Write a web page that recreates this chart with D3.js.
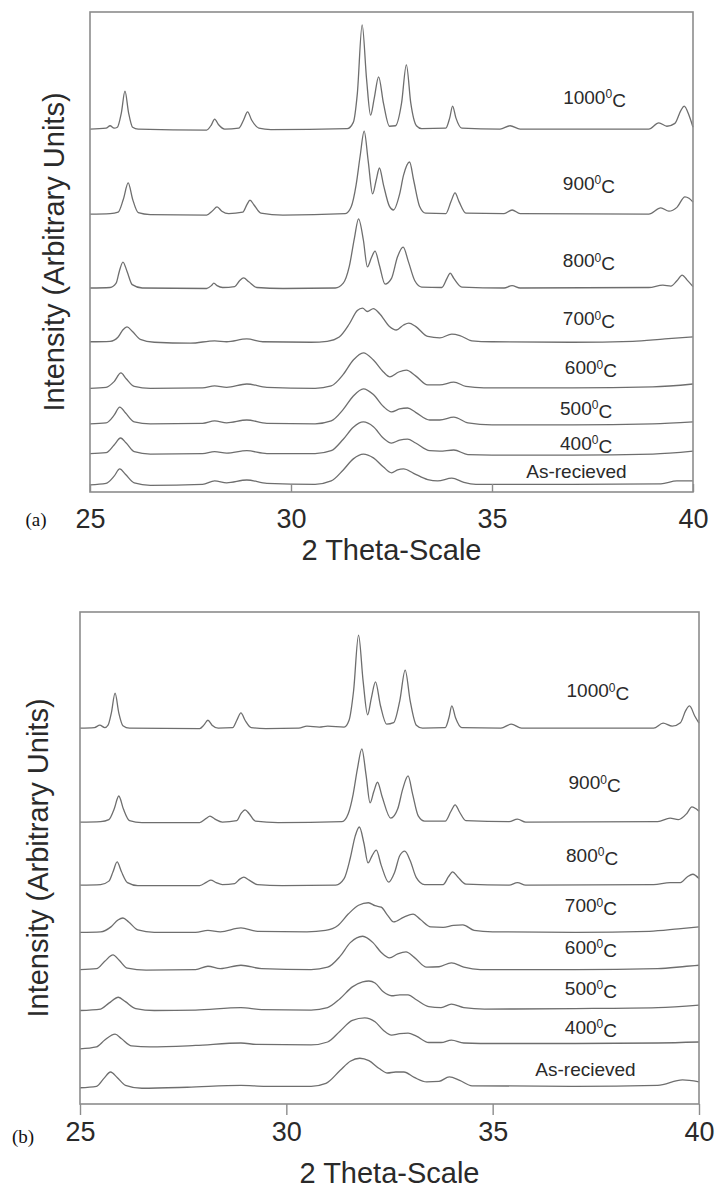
<!DOCTYPE html>
<html>
<head>
<meta charset="utf-8">
<script src="https://cdn.jsdelivr.net/npm/d3@7"></script>
<style>
  html, body { margin: 0; padding: 0; background: #fff; }
  svg { display: block; }
</style>
</head>
<body>
<svg id="chart" width="717" height="1189"></svg>
<script>
// ---------------- DATA ----------------
const xTicks = [25, 30, 35, 40];
const sampleNames = ["1000", "900", "800", "700", "600", "500", "400", "As-recieved"];
const panelNames = ["(a)", "(b)"];
const xTitle = "2 Theta-Scale";
const yTitle = "Intensity (Arbitrary Units)";

// Panel (a): [2theta, intensity (arbitrary units, stacked)]
const a1000 = [[25.0,75.6],[25.4,75.8],[25.5,76.3],[25.6,75.8],[25.68,76.0],[25.78,79.0],[25.87,83.5],[25.96,79.0],[26.06,76.0],[26.2,75.6],[27.9,75.4],[28.02,76.5],[28.1,77.7],[28.2,76.5],[28.35,75.6],[28.7,75.8],[28.82,77.5],[28.92,79.2],[29.02,77.5],[29.2,75.8],[29.5,75.5],[31.4,75.7],[31.55,77],[31.65,83],[31.77,97.3],[31.88,86],[31.98,78.5],[32.07,82],[32.18,86.5],[32.3,81],[32.45,76.2],[32.6,76.3],[32.75,81],[32.87,89.0],[32.98,81],[33.12,76.3],[33.25,75.7],[33.85,75.8],[33.95,78],[34.02,80.4],[34.1,78],[34.25,75.8],[35.2,75.6],[35.45,76.3],[35.7,75.6],[38.9,75.6],[39.15,76.9],[39.35,76.2],[39.55,76.8],[39.7,79.5],[39.78,80.4],[39.9,78.5],[40.0,76.0]];
const a900 = [[25.0,57.9],[25.5,58.0],[25.7,58.3],[25.83,61],[25.95,64.4],[26.06,61],[26.2,58.2],[26.5,57.8],[27.9,57.7],[28.05,58.6],[28.16,59.4],[28.28,58.5],[28.45,58.0],[28.8,58.3],[28.9,59.8],[28.98,60.8],[29.08,59.8],[29.25,58.1],[29.8,57.7],[31.35,58],[31.5,59.5],[31.62,64],[31.72,70],[31.82,75.2],[31.92,69],[32.03,62.1],[32.12,65],[32.2,67.5],[32.3,64],[32.45,59.5],[32.55,58.75],[32.7,62],[32.8,66],[32.95,68.75],[33.05,65],[33.2,59.5],[33.35,58.1],[33.85,58.0],[33.98,60.5],[34.08,62.3],[34.18,60.5],[34.35,58.1],[35.3,58.0],[35.5,58.75],[35.7,58.0],[38.9,57.9],[39.2,59.2],[39.4,58.5],[39.6,59.3],[39.8,61.5],[39.9,61.2],[40.0,60.4]];
const a800 = [[25.0,42.5],[25.5,42.6],[25.65,43.5],[25.73,46],[25.82,47.9],[25.92,46],[26.05,43.2],[26.3,42.5],[27.9,42.4],[28.02,43.0],[28.08,43.5],[28.16,43.0],[28.3,42.6],[28.6,42.8],[28.72,44],[28.82,44.6],[28.95,43.8],[29.15,42.6],[29.8,42.4],[31.1,42.5],[31.3,43.5],[31.45,47],[31.58,53],[31.68,56.9],[31.8,52.5],[31.9,46.9],[32.0,48.8],[32.09,50.2],[32.2,47.2],[32.34,43.3],[32.5,44.5],[32.65,49],[32.79,51.0],[32.92,48],[33.08,44],[33.25,42.7],[33.75,42.6],[33.88,44.5],[33.96,45.6],[34.05,44.5],[34.25,42.7],[35.3,42.5],[35.5,43.0],[35.7,42.5],[38.9,42.6],[39.25,43.1],[39.45,42.9],[39.6,44],[39.73,45.2],[39.85,44.2],[40.0,42.8]];
const a700 = [[25.0,31.3],[25.5,31.4],[25.7,32.3],[25.82,33.8],[25.92,34.4],[26.05,33.5],[26.25,31.8],[26.6,31.2],[27.5,31.0],[28.1,31.5],[28.4,31.3],[28.9,31.9],[29.3,31.3],[30.5,31.2],[30.9,31.4],[31.2,32.3],[31.45,35],[31.65,37.8],[31.78,38.3],[31.9,37.6],[32.05,38.2],[32.2,37.2],[32.45,34.5],[32.62,33.75],[32.8,34.8],[32.93,35.2],[33.1,34.5],[33.4,32.4],[33.7,32.1],[34.0,32.9],[34.2,32.6],[34.5,31.5],[35,31.3],[37,31.2],[38.5,31.4],[39.3,31.9],[40.0,32.3]];
const a600 = [[25.0,21.6],[25.4,21.8],[25.6,23.0],[25.77,24.8],[25.9,23.6],[26.1,22.0],[26.5,21.6],[27.8,21.7],[28.1,22.1],[28.4,21.8],[28.9,22.5],[29.4,21.8],[30.6,21.6],[31.0,22.1],[31.3,24.5],[31.55,27.5],[31.8,29.0],[32.05,27.5],[32.3,25.0],[32.46,24.0],[32.68,25.0],[32.87,25.4],[33.1,24.2],[33.4,22.3],[33.7,22.3],[34.05,22.9],[34.35,22.0],[34.8,21.7],[37,21.7],[39,21.9],[40.0,22.5]];
const a500 = [[25.0,14.2],[25.4,14.4],[25.6,16.0],[25.74,17.7],[25.88,16.5],[26.1,14.6],[26.5,14.2],[27.8,14.3],[28.1,14.8],[28.4,14.4],[28.9,15.0],[29.4,14.3],[30.6,14.2],[31.0,14.8],[31.3,17.2],[31.55,20.0],[31.8,21.5],[32.05,20.3],[32.3,17.8],[32.5,16.7],[32.7,17.3],[32.9,17.5],[33.1,16.6],[33.45,15.0],[33.7,15.0],[34.05,15.6],[34.4,14.4],[35,14.0],[37,14.0],[39,14.2],[40.0,14.6]];
const a400 = [[25.0,8.0],[25.4,8.2],[25.6,9.8],[25.76,11.25],[25.9,10.2],[26.1,8.4],[26.5,7.9],[27.8,8.0],[28.1,8.4],[28.4,8.1],[28.9,8.6],[29.4,8.0],[30.6,8.0],[31.0,8.6],[31.3,11.0],[31.55,13.5],[31.8,14.6],[32.05,13.6],[32.3,11.2],[32.5,10.2],[32.7,10.8],[32.9,11.0],[33.1,10.2],[33.45,8.6],[33.7,8.5],[34.05,8.75],[34.4,7.8],[35,7.7],[37,7.7],[39,7.9],[40.0,8.5]];
const aAsRec = [[25.0,1.5],[25.4,1.8],[25.6,3.3],[25.74,4.8],[25.88,3.7],[26.1,1.9],[26.5,1.4],[27.8,1.6],[28.1,2.3],[28.4,1.9],[28.9,2.5],[29.4,1.8],[30.6,1.6],[31.0,2.3],[31.3,4.6],[31.55,6.9],[31.8,7.9],[32.05,7.1],[32.3,5.2],[32.5,4.0],[32.65,4.6],[32.8,4.8],[33.05,3.9],[33.4,2.6],[33.65,2.3],[34.0,2.9],[34.3,2.0],[34.6,1.6],[37,1.6],[39.2,1.7],[39.6,2.3],[40.0,2.3]];

// Panel (b)
const b1000 = [[25.0,76.4],[25.35,76.5],[25.48,77.0],[25.6,76.5],[25.68,77.0],[25.76,79.5],[25.85,83.5],[25.94,79.5],[26.04,76.9],[26.2,76.4],[27.9,76.3],[28.0,77.0],[28.1,78.0],[28.2,77.0],[28.35,76.4],[28.7,76.5],[28.8,78.0],[28.9,79.5],[29.0,78.0],[29.15,76.5],[29.5,76.3],[30.3,76.4],[30.5,76.8],[30.8,76.6],[31.0,76.8],[31.4,76.6],[31.52,78],[31.63,84],[31.75,95.3],[31.86,86],[31.97,79.1],[32.06,82.5],[32.16,85.8],[32.28,81],[32.43,77.2],[32.6,77.5],[32.75,82],[32.88,88.2],[33.0,82],[33.15,77.0],[33.3,76.4],[33.85,76.5],[33.94,78.5],[34.01,80.9],[34.1,78.5],[34.25,76.5],[35.2,76.4],[35.45,77.2],[35.7,76.4],[38.9,76.4],[39.13,77.4],[39.35,76.8],[39.55,77.5],[39.68,80],[39.77,80.9],[39.9,78.8],[40.0,77.4]];
const b900 = [[25.0,57.3],[25.5,57.4],[25.7,57.8],[25.83,60],[25.94,62.6],[26.05,60],[26.2,57.6],[26.5,57.2],[27.9,57.2],[28.05,58.0],[28.15,58.5],[28.27,57.9],[28.45,57.3],[28.8,57.6],[28.9,59.0],[29.0,59.8],[29.1,59.0],[29.25,57.5],[29.8,57.2],[31.35,57.4],[31.5,59],[31.62,63],[31.72,68],[31.83,72.2],[31.93,67],[32.03,61.2],[32.12,63.5],[32.21,65.4],[32.32,62.5],[32.53,58.1],[32.7,60],[32.82,64],[32.95,66.7],[33.06,63],[33.2,58.5],[33.35,57.5],[33.85,57.5],[33.99,59.5],[34.09,60.8],[34.2,59.3],[34.35,57.6],[35.4,57.4],[35.6,57.9],[35.8,57.3],[39.0,57.4],[39.3,58.1],[39.5,57.8],[39.7,59.0],[39.83,60.4],[39.93,60],[40.0,59.5]];
const b800 = [[25.0,44.5],[25.5,44.6],[25.7,45.3],[25.8,47.2],[25.9,49.2],[26.0,47.3],[26.15,45.0],[26.4,44.4],[27.9,44.4],[28.07,45.1],[28.17,45.5],[28.3,45.0],[28.45,44.6],[28.75,44.8],[28.87,45.7],[28.97,46.1],[29.1,45.5],[29.3,44.6],[29.9,44.4],[31.2,44.5],[31.4,45.8],[31.55,50],[31.67,54.5],[31.77,56.3],[31.88,53],[31.98,49.0],[32.08,50.5],[32.18,51.6],[32.3,48.5],[32.48,45.1],[32.62,47],[32.75,50.5],[32.87,51.4],[33.0,49.5],[33.15,46.0],[33.35,44.6],[33.8,44.6],[33.93,46.2],[34.03,47.2],[34.15,46.2],[34.35,44.7],[35.4,44.5],[35.6,45.0],[35.8,44.5],[38.9,44.6],[39.3,45.0],[39.55,45.0],[39.72,46.2],[39.85,46.7],[40.0,45.8]];
const b700 = [[25.0,34.9],[25.5,35.0],[25.75,36.0],[25.92,37.4],[26.04,37.8],[26.18,37.0],[26.4,35.4],[26.8,34.9],[27.8,34.9],[28.1,35.3],[28.4,35.0],[28.9,35.8],[29.3,35.1],[30.5,35.0],[30.95,35.3],[31.25,36.3],[31.5,38.6],[31.75,40.4],[31.99,40.9],[32.15,40.3],[32.3,40.0],[32.45,38.4],[32.6,37.0],[32.85,38.0],[33.07,38.6],[33.25,37.5],[33.5,36.0],[33.8,35.9],[34.05,36.3],[34.28,36.4],[34.55,35.3],[35.0,35.0],[37.0,34.9],[38.8,35.1],[39.5,35.6],[40.0,36.0]];
const b600 = [[25.0,27.3],[25.4,27.5],[25.6,29.0],[25.8,30.3],[25.95,29.2],[26.15,27.6],[26.6,27.2],[27.8,27.3],[28.1,28.0],[28.4,27.5],[28.9,28.2],[29.4,27.5],[30.6,27.3],[31.0,27.8],[31.3,30.0],[31.55,32.8],[31.85,34.1],[32.1,32.8],[32.3,30.8],[32.5,29.7],[32.7,30.5],[32.9,30.9],[33.1,29.8],[33.4,27.8],[33.7,27.9],[34.0,28.7],[34.3,27.8],[34.7,27.3],[37.0,27.3],[39.0,27.5],[39.7,28.0],[40.0,28.2]];
const b500 = [[25.0,19.0],[25.5,19.3],[25.7,20.5],[25.93,21.7],[26.1,20.8],[26.35,19.4],[26.8,19.0],[27.8,19.1],[28.9,19.6],[29.4,19.2],[30.6,19.1],[31.0,19.6],[31.3,21.4],[31.6,23.8],[31.85,24.8],[32.0,25.0],[32.15,24.6],[32.35,22.8],[32.55,22.0],[32.75,22.2],[32.95,22.2],[33.15,21.2],[33.45,19.8],[33.75,19.6],[34.0,20.3],[34.3,19.6],[34.8,19.3],[37.0,19.4],[39.0,19.6],[40.0,20.1]];
const b400 = [[25.0,11.2],[25.4,11.6],[25.6,13.0],[25.85,14.2],[26.0,13.3],[26.25,11.8],[26.7,11.6],[27.8,11.9],[28.9,12.4],[29.3,12.1],[30.6,12.0],[31.0,12.6],[31.3,14.8],[31.6,17.0],[31.9,17.5],[32.15,16.7],[32.35,15.0],[32.55,14.0],[32.75,14.3],[32.95,14.4],[33.15,13.8],[33.45,12.5],[33.75,12.5],[34.0,13.0],[34.3,12.4],[34.7,12.3],[37.0,12.3],[39.0,12.4],[40.0,12.6]];
const bAsRec = [[25.0,3.3],[25.4,3.6],[25.58,5.2],[25.74,6.5],[25.9,5.4],[26.1,3.8],[26.5,3.2],[27.6,3.4],[28.9,3.8],[29.5,3.6],[30.6,3.6],[30.96,4.2],[31.3,6.8],[31.55,8.7],[31.78,9.3],[32.0,8.8],[32.25,7.2],[32.45,6.3],[32.65,6.5],[32.85,6.5],[33.1,5.4],[33.4,4.5],[33.7,4.6],[33.95,5.5],[34.2,4.8],[34.5,3.7],[37.0,3.6],[39.0,3.8],[39.6,4.9],[40.0,4.5]];

// ---------------- LAYOUT (positions / styles) ----------------
const panels = [
  { series: [a1000, a900, a800, a700, a600, a500, a400, aAsRec],
    frame: { x0: 90, x1: 693, y0: 12, y1: 492 },
    tickSize: -8, tickPad: 17,
    labelPos: [[37.55,82.3],[37.41,64.4],[37.41,48.3],[37.41,36.2],[37.46,26.0],[37.34,17.5],[37.34,10.2],[37.1,4.4]],
    titleY: 560, yTitleX: 64, tag: [36, 526] },
  { series: [b1000, b900, b800, b700, b600, b500, b400, bAsRec],
    frame: { x0: 80, x1: 699, y0: 612, y1: 1104 },
    tickSize: 11, tickPad: 7,
    labelPos: [[37.55,84.1],[37.47,65.4],[37.41,50.6],[37.38,40.4],[37.38,31.9],[37.38,23.6],[37.38,15.65],[37.25,7.1]],
    titleY: 1183, yTitleX: 48, tag: [23, 1143] }
];

const svg = d3.select("#chart");
const sans = "'Liberation Sans', Arial, Helvetica, sans-serif";
const frameColor = "#8c8c8c", lineColor = "#6e6e6e", textColor = "#2a2a2a";

panels.forEach((p, pi) => {
  const f = p.frame;
  const x = d3.scaleLinear().domain([25, 40]).range([f.x0, f.x1]);
  const y = d3.scaleLinear().domain([0, 100]).range([f.y1, f.y0]);
  const g = svg.append("g");

  // curves
  const line = d3.line().x(d => x(d[0])).y(d => y(d[1])).curve(d3.curveMonotoneX);
  g.selectAll("path.curve").data(p.series).join("path")
    .attr("class", "curve")
    .attr("d", line)
    .attr("fill", "none")
    .attr("stroke", lineColor)
    .attr("stroke-width", 1.3)
    .attr("stroke-linejoin", "round");

  // frame
  g.append("rect")
    .attr("x", f.x0).attr("y", f.y0)
    .attr("width", f.x1 - f.x0).attr("height", f.y1 - f.y0)
    .attr("fill", "none").attr("stroke", frameColor).attr("stroke-width", 1.6);

  // x axis
  const axis = d3.axisBottom(x).tickValues(xTicks).tickSize(p.tickSize).tickPadding(p.tickPad).tickFormat(d3.format("d"));
  const ax = g.append("g").attr("transform", `translate(0,${f.y1})`).call(axis);
  ax.select(".domain").remove();
  ax.selectAll(".tick line").attr("stroke", frameColor).attr("stroke-width", 1.4);
  ax.selectAll(".tick text")
    .attr("fill", textColor)
    .style("font-family", sans)
    .style("font-size", "27px");

  // curve labels
  p.labelPos.forEach((lp, i) => {
    const t = g.append("text")
      .attr("x", x(lp[0])).attr("y", y(lp[1]))
      .attr("dy", "0.36em")
      .attr("text-anchor", "middle")
      .attr("fill", textColor)
      .style("font-family", sans)
      .style("font-size", "19px");
    const name = sampleNames[i];
    if (name === "As-recieved") {
      t.text(name);
    } else {
      t.append("tspan").text(name);
      t.append("tspan").attr("dy", "-0.45em").style("font-size", "12px").text("0");
      t.append("tspan").attr("dy", "0.45em").text("C");
    }
  });

  // x title
  g.append("text")
    .attr("x", (f.x0 + f.x1) / 2).attr("y", p.titleY)
    .attr("text-anchor", "middle")
    .attr("fill", textColor)
    .style("font-family", sans).style("font-size", "29px")
    .text(xTitle);

  // y title
  g.append("text")
    .attr("transform", `translate(${p.yTitleX},${(f.y0 + f.y1) / 2}) rotate(-90)`)
    .attr("text-anchor", "middle")
    .attr("fill", textColor)
    .style("font-family", sans).style("font-size", "29px")
    .text(yTitle);

  // panel tag
  g.append("text")
    .attr("x", p.tag[0]).attr("y", p.tag[1])
    .attr("text-anchor", "middle")
    .attr("fill", "#111")
    .style("font-family", "'Liberation Serif', 'Times New Roman', serif")
    .style("font-size", "19px")
    .text(panelNames[pi]);
});
</script>
</body>
</html>
